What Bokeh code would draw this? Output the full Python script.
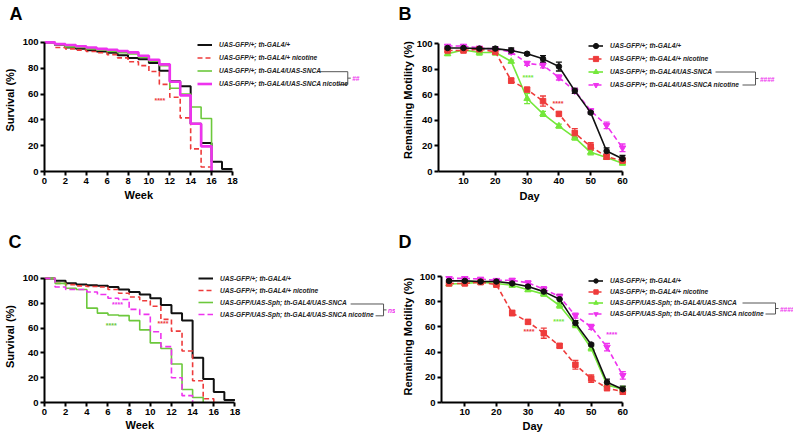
import math
from bokeh.plotting import figure
from bokeh.layouts import row, column
from bokeh.models import (Range1d, FixedTicker, Legend, LegendItem, Arrow, Title,
                          Whisker, TeeHead, ColumnDataSource, CDSView, IndexFilter)
from bokeh.embed import file_html
from bokeh.resources import INLINE
from bokeh.core.properties import value

FONT = "Liberation Sans"
BLACK = "#111111"
RED = "#ee3b3b"
GREEN = "#6cc83c"
GREEN2 = "#74e83a"
MAGENTA = "#ee33ee"

# ---------------- data: survival (panels A, C) ----------------
A_black_week = list(range(0, 19))
A_black_surv = [100, 98, 96, 95, 94, 93, 92, 90, 88, 87, 84, 78, 70, 66, 37, 22, 7.5, 2, 2]
A_red_week = list(range(0, 17))
A_red_surv = [100, 96, 95, 94, 93, 92, 90.5, 88, 85, 82, 77.5, 67.5, 57.5, 41.5, 17.5, 3.5, 0]
A_green_week = list(range(0, 17))
A_green_surv = [100, 98, 96.5, 96, 95, 94, 93, 92, 91, 88.5, 85.5, 82, 64.5, 60, 50, 41, 0]
A_magenta_week = list(range(0, 17))
A_magenta_surv = [100, 98.7, 98, 97, 96, 95, 94.3, 93.3, 92.3, 89.7, 86.6, 83, 69.5, 59, 37, 19.5, 0]

C_black_week = list(range(0, 19))
C_black_surv = [100, 98, 96, 95, 94.5, 94, 93, 91, 89, 87, 84, 78.5, 72, 66, 36, 19, 8.5, 2, 2]
C_red_week = list(range(0, 17))
C_red_surv = [100, 96, 95, 94, 93.5, 93, 91, 88, 85, 82, 77.5, 67, 57.5, 41.5, 17.5, 3, 0]
C_green_week = list(range(0, 16))
C_green_surv = [100, 96, 92, 91, 76, 72, 70.5, 70, 66, 58.5, 48, 43.5, 31, 10.5, 4, 0]
C_magenta_week = list(range(0, 15))
C_magenta_surv = [100, 93, 91, 91, 89, 87, 84, 83, 75, 71, 57, 45, 20, 5.5, 0]

# ---------------- data: motility (panels B, D) ----------------
days = [5, 10, 15, 20, 25, 30, 35, 40, 45, 50, 55, 60]
B_black_mean = [96.5, 96.5, 96, 96, 94.5, 92, 88, 82, 63, 46, 16, 10]
B_black_sem = [1, 1, 1, 1.5, 2, 1, 2.5, 3.5, 2, 1, 2.5, 2.5]
B_red_mean = [94.5, 94.5, 95.5, 93.5, 71, 64, 55, 45, 30, 19.5, 11.5, 8.5]
B_red_sem = [1, 1, 1, 1.5, 2, 1.5, 4, 1.5, 3.5, 3, 2, 2]
B_green_mean = [92, 95, 93, 93, 86, 57, 45, 35.5, 26.5, 15, 11, 6.5]
B_green_sem = [1.5, 1, 2, 2, 1, 4, 2, 1.5, 2, 2, 1.5, 1.5]
B_magenta_mean = [98, 98, 96.5, 95.5, 93.5, 84.5, 83, 73.5, 63, 47.5, 36, 18.5]
B_magenta_sem = [1, 1, 1, 1, 2, 1.5, 2, 2, 2, 1.5, 2.5, 3]

D_black_mean = [96.5, 96.5, 96, 96, 94.5, 92, 88, 82, 63, 46, 16, 10.5]
D_black_sem = [1, 1, 1, 1.5, 2, 1, 2.5, 3.5, 2, 1, 2.5, 2.5]
D_red_mean = [94.5, 94.5, 95.5, 93.5, 71, 64, 55, 45, 30, 19, 11.5, 8.5]
D_red_sem = [1, 1, 1, 1.5, 2, 1.5, 4, 1.5, 3.5, 3, 2, 2]
D_green_mean = [94, 94.5, 95.5, 94.5, 93, 89.5, 86, 77, 61.5, 43, 14, 10.5]
D_green_sem = [1, 1, 1, 1, 1.5, 1.5, 1.5, 2, 2, 2, 2, 2]
D_magenta_mean = [98.5, 98.5, 98, 97, 97, 95, 90, 84, 69, 60, 44, 21.5]
D_magenta_sem = [1, 1, 1, 1, 1.5, 1.5, 2, 2, 2, 2, 3, 3]

# ---------------- labels ----------------
week_ticks = [0, 2, 4, 6, 8, 10, 12, 14, 16, 18]
day_ticks = [10, 20, 30, 40, 50, 60]
pct_ticks = [0, 20, 40, 60, 80, 100]
labels_AB = ["UAS-GFP/+; th-GAL4/+", "UAS-GFP/+; th-GAL4/+ nicotine",
             "UAS-GFP/+; th-GAL4/UAS-SNCA", "UAS-GFP/+; th-GAL4/UAS-SNCA nicotine"]
labels_CD = ["UAS-GFP/+; th-GAL4/+", "UAS-GFP/+; th-GAL4/+ nicotine",
             "UAS-GFP/UAS-Sph; th-GAL4/UAS-SNCA", "UAS-GFP/UAS-Sph; th-GAL4/UAS-SNCA nicotine"]

# significance marks (data coords)
A_star_x, A_star_y, A_star_c = [11.05], [55], [RED]
B_star_x, B_star_y, B_star_c = [30.3, 39.7], [73.4, 53], [GREEN2, RED]
C_star_x, C_star_y, C_star_c = [6.9, 6.3, 11.2], [78.6, 62, 64], [MAGENTA, GREEN, RED]
D_star_x, D_star_y, D_star_c = [30.3, 39.7, 56.5], [56.3, 64, 54], [RED, GREEN2, MAGENTA]

# ---------------- layout (page pixels) ----------------
SPEC_A = dict(PL=0, PT=0, FW=395, FH=215, L=42, Bt=172, top=28, xr=0, xr_px=42, kx=10.5, ky=1.3,
              xbound_hi=18, xticks=week_ticks)
SPEC_B = dict(PL=395, PT=0, FW=398, FH=215, L=438, Bt=171, top=28, xr=10, xr_px=463, kx=3.18, ky=1.28,
              xbound_hi=60, xticks=day_ticks)
SPEC_C = dict(PL=0, PT=215, FW=395, FH=226, L=43, Bt=404, top=55, xr=0, xr_px=43, kx=10.61, ky=1.26,
              xbound_hi=18, xticks=week_ticks)
SPEC_D = dict(PL=395, PT=215, FW=398, FH=226, L=441, Bt=402, top=55, xr=10, xr_px=464.3, kx=3.16, ky=1.26,
              xbound_hi=60, xticks=day_ticks)


def x0_of(s):
    return s["xr"] - (s["xr_px"] - s["L"]) / s["kx"]


def to_data(s, px, py):
    return x0_of(s) + (px - s["L"]) / s["kx"], (s["Bt"] - py) / s["ky"]


def make_fig(s, letter, xlabel, ylabel, xlab_center, xlab_width, xl_standoff, yl_standoff,
             title_standoff):
    x0 = x0_of(s)
    x1 = x0 + (s["PL"] + s["FW"] - s["L"]) / s["kx"]
    y1 = (s["Bt"] - (s["PT"] + s["top"])) / s["ky"]
    p = figure(width=s["FW"], height=s["FH"], output_backend="svg", toolbar_location=None,
               x_range=Range1d(x0, x1), y_range=Range1d(0, y1), title=letter,
               min_border_left=s["L"] - s["PL"], min_border_top=s["top"],
               min_border_right=0, min_border_bottom=s["PT"] + s["FH"] - s["Bt"])
    p.grid.visible = False
    p.outline_line_color = None
    p.background_fill_color = "white"
    p.border_fill_color = "white"
    for ax in (p.xaxis[0], p.yaxis[0]):
        ax.axis_line_width = 2
        ax.axis_line_color = "black"
        ax.major_tick_line_width = 2
        ax.major_tick_line_color = "black"
        ax.major_tick_out = 4
        ax.major_tick_in = 0
        ax.minor_tick_line_color = None
        ax.major_label_text_font = FONT
        ax.major_label_text_font_style = "bold"
        ax.major_label_text_font_size = "9.5px"
        ax.major_label_text_color = "black"
        ax.axis_label_text_font = FONT
        ax.axis_label_text_font_style = "bold"
        ax.axis_label_text_font_size = "11px"
        ax.axis_label_text_color = "black"
    p.xaxis.major_label_standoff = 2
    p.yaxis.major_label_standoff = 2
    p.yaxis.axis_label = ylabel
    p.yaxis.axis_label_standoff = yl_standoff
    p.xaxis.ticker = FixedTicker(ticks=s["xticks"])
    p.yaxis.ticker = FixedTicker(ticks=pct_ticks)
    p.xaxis.bounds = (x0, s["xbound_hi"])
    p.yaxis.bounds = (0, 100)
    # x-axis title, centred under the bounded axis
    p.add_layout(Title(text=xlabel, align="left", vertical_align="top",
                       offset=round(xlab_center - s["L"] - xlab_width / 2),
                       standoff=xl_standoff, text_font=FONT, text_font_size="11px",
                       text_font_style="bold", text_color="black"), "below")
    # panel letter
    p.title.text_font = FONT
    p.title.text_font_size = "18px"
    p.title.text_font_style = "bold"
    p.title.text_color = "black"
    p.title.align = "left"
    p.title.vertical_align = "top"
    p.title.standoff = title_standoff
    p.title.offset = 7 - (s["L"] - s["PL"]) if s["PL"] == 0 else 3 - (s["L"] - s["PL"])
    return p


def add_bracket(p, s, x_top_left, x_bot_left, x_right, y_top, y_bot, mark, mark_size):
    ym = (y_top + y_bot) / 2
    segs = [(x_top_left, y_top, x_right, y_top), (x_right, y_top, x_right, y_bot),
            (x_bot_left, y_bot, x_right, y_bot), (x_right, ym, x_right + 3, ym)]
    for (ax, ay, bx, by) in segs:
        xs, ys = to_data(s, ax, ay)
        xe, ye = to_data(s, bx, by)
        p.add_layout(Arrow(x_start=xs, y_start=ys, x_end=xe, y_end=ye, start=None, end=None,
                           line_color="#555555", line_width=1))
    mx, my = to_data(s, x_right + 4.5, ym + 0.5)
    src = ColumnDataSource(dict(x=[mx], y=[my], t=[mark]))
    p.text(x="x", y="y", text="t", source=src, text_color=MAGENTA, text_font=value(FONT),
           text_font_size=mark_size, text_font_style="bold italic", text_align="left",
           text_baseline="middle")


def add_stars(p, xs, ys, cs):
    src = ColumnDataSource(dict(x=xs, y=ys, c=cs, t=["****"] * len(xs)))
    p.text(x="x", y="y", text="t", source=src, text_color="c", text_font=value(FONT),
           text_font_size="7px", text_font_style="bold", text_align="center",
           text_baseline="middle")


def make_legend(p, s, items, left_px, bottom_px, row_h):
    leg = Legend(items=items, location=(left_px - s["L"], s["Bt"] - bottom_px),
                 background_fill_alpha=0, border_line_color=None, padding=0, margin=0,
                 spacing=0, glyph_width=15, glyph_height=row_h, label_height=row_h,
                 label_standoff=7, label_text_font=FONT, label_text_font_size="6.6px",
                 label_text_font_style="bold italic", label_text_baseline="middle",
                 label_text_color="#222222")
    p.add_layout(leg)


def survival_panel(s, curves, labels, star, letter, legend_pos, bracket, mark, xlab_center, std):
    p = make_fig(s, letter, "Week", "Survival (%)", xlab_center, 28.7, *std)
    legend_items = []
    for (wk, sv, col, lw, dash), lab in zip(curves, labels):
        src = ColumnDataSource(dict(x=wk, y=sv))
        r = p.step(x="x", y="y", source=src, mode="after", line_color=col, line_width=lw,
                   line_dash=dash)
        t = p.scatter(x="x", y="y", source=src, view=CDSView(filter=IndexFilter(indices=[])),
                      marker="dash", angle=math.pi / 2, size=6, line_color=col, line_width=1.5)
        legend_items.append(LegendItem(label=lab, renderers=[r, t]))
    add_stars(p, *star)
    make_legend(p, s, legend_items, *legend_pos)
    add_bracket(p, s, *bracket, mark, "6.5px")
    return p


def motility_panel(s, series, labels, star, letter, legend_pos, bracket, mark, mark_size,
                   xlab_center, std):
    p = make_fig(s, letter, "Day", "Remaining Motility (%)", xlab_center, 20.2, *std)
    entries = {}
    for idx in series["order"]:
        mean, sem, col, dash, marker, msize = series["data"][idx]
        src = ColumnDataSource(dict(x=days, y=mean,
                                    lo=[m - e for m, e in zip(mean, sem)],
                                    hi=[m + e for m, e in zip(mean, sem)]))
        ln = p.line(x="x", y="y", source=src, line_color=col, line_width=1.6, line_dash=dash)
        w = Whisker(base="x", upper="hi", lower="lo", source=src, line_color=col, line_width=1.3,
                    upper_head=TeeHead(size=6, line_color=col, line_width=1.3),
                    lower_head=TeeHead(size=6, line_color=col, line_width=1.3))
        p.add_layout(w)
        sc = p.scatter(x="x", y="y", source=src, marker=marker, size=msize,
                       fill_color=col, line_color=col)
        entries[idx] = (ln, sc)
    legend_items = [LegendItem(label=labels[i], renderers=list(entries[i])) for i in range(4)]
    add_stars(p, *star)
    make_legend(p, s, legend_items, *legend_pos)
    add_bracket(p, s, *bracket, mark, mark_size)
    return p


pA = survival_panel(
    SPEC_A,
    [(A_black_week, A_black_surv, BLACK, 2, "solid"),
     (A_red_week, A_red_surv, RED, 1.6, "5 3"),
     (A_green_week, A_green_surv, GREEN, 1.6, "solid"),
     (A_magenta_week, A_magenta_surv, MAGENTA, 2.6, "solid")],
    labels_AB, (A_star_x, A_star_y, A_star_c), "A",
    (195, 91, 13), (318, 338, 347, 71.5, 84.5), "##", 136.5, (5, 4, 5))

pC = survival_panel(
    SPEC_C,
    [(C_black_week, C_black_surv, BLACK, 2, "solid"),
     (C_red_week, C_red_surv, RED, 1.6, "5 3"),
     (C_green_week, C_green_surv, GREEN, 1.6, "solid"),
     (C_magenta_week, C_magenta_surv, MAGENTA, 1.6, "6 3")],
    labels_CD, (C_star_x, C_star_y, C_star_c), "C",
    (197, 322, 12), (350, 375, 383, 304, 316), "ns", 138, (3, 4, 33))

pB = motility_panel(
    SPEC_B,
    dict(order=[2, 3, 1, 0],
         data=[(B_black_mean, B_black_sem, BLACK, "solid", "circle", 5.5),
               (B_red_mean, B_red_sem, RED, "5 3", "square", 5.5),
               (B_green_mean, B_green_sem, GREEN2, "solid", "triangle", 6.5),
               (B_magenta_mean, B_magenta_sem, MAGENTA, "5 3", "inverted_triangle", 6.5)]),
    labels_AB, (B_star_x, B_star_y, B_star_c), "B",
    (588, 91, 13), (715, 742, 755, 71.5, 84.5), "####", "6.5px", 529, (7, 0, 5))

pD = motility_panel(
    SPEC_D,
    dict(order=[2, 3, 1, 0],
         data=[(D_black_mean, D_black_sem, BLACK, "solid", "circle", 5.5),
               (D_red_mean, D_red_sem, RED, "5 3", "square", 5.5),
               (D_green_mean, D_green_sem, GREEN2, "solid", "triangle", 6.5),
               (D_magenta_mean, D_magenta_sem, MAGENTA, "5 3", "inverted_triangle", 6.5)]),
    labels_CD, (D_star_x, D_star_y, D_star_c), "D",
    (588, 319, 11), (742, 765, 775, 302.5, 313.5), "####", "6.5px", 532, (5, 3, 33))

layout = column(row(pA, pB), row(pC, pD))
open("out.html", "w").write(file_html(layout, INLINE))
